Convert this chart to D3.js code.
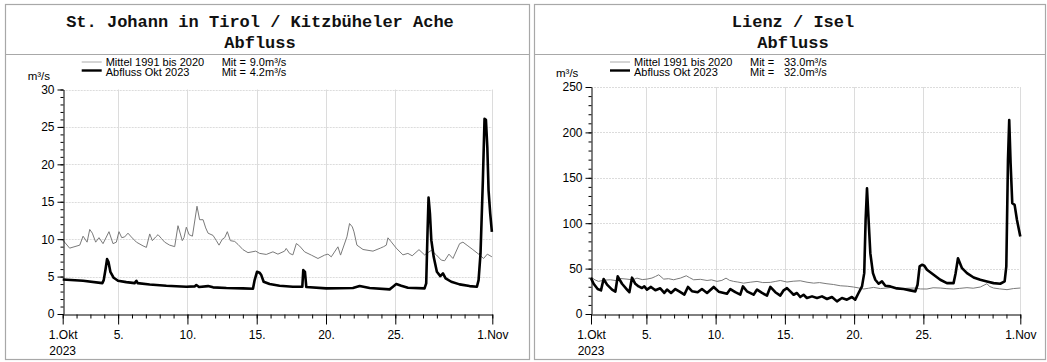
<!DOCTYPE html>
<html><head><meta charset="utf-8">
<script src="https://cdn.jsdelivr.net/npm/d3@7"></script>
<style>body{margin:0;background:#fff}svg{display:block}</style>
</head><body>
<svg id="chart" width="1047" height="362"></svg>
<script>
// ---------- data ----------
const xTickDays = [0, 4, 9, 14, 19, 24, 31];
const xTickLabels = ["1.Okt", "5.", "10.", "15.", "20.", "25.", "1.Nov"];
const yearLabel = "2023";
const unitLabel = "m³/s";
const legendLabels = ["Mittel 1991 bis 2020", "Abfluss Okt 2023"];

const leftTitle = ["St. Johann in Tirol / Kitzbüheler Ache", "Abfluss"];
const leftMeanLabels = ["9.0m³/s", "4.2m³/s"];
const leftYTicks = [0, 5, 10, 15, 20, 25, 30];

const rightTitle = ["Lienz / Isel", "Abfluss"];
const rightMeanLabels = ["33.0m³/s", "32.0m³/s"];
const rightYTicks = [0, 50, 100, 150, 200, 250];

// [day since 1 Oct, m³/s]
const leftMean = [[0,9.9],[0.5,8.8],[1.23,9.2],[1.47,10.4],[1.76,9.6],[1.95,11.3],[2.14,10.8],[2.38,9.6],[2.62,10.2],[2.91,9.4],[3.34,11.0],[3.63,9.4],[3.87,9.6],[4.06,11.0],[4.26,10.2],[4.47,10.3],[4.71,10.8],[4.95,10.3],[5.32,9.6],[5.8,9.1],[6.04,8.9],[6.28,10.7],[6.47,9.8],[6.71,10.3],[6.88,10.6],[7.12,10.1],[7.36,9.6],[7.72,9.2],[8.08,9.0],[8.32,11.8],[8.63,9.8],[8.75,10.2],[8.92,11.6],[9.12,10.6],[9.36,10.4],[9.69,14.4],[9.88,12.6],[10.13,12.6],[10.32,11.5],[10.49,10.8],[10.85,10.5],[11.09,9.8],[11.28,9.2],[11.52,10.0],[11.69,10.2],[11.88,11.0],[12.1,9.8],[12.41,9.7],[12.65,9.3],[13.01,8.6],[13.37,8.2],[13.93,8.4],[14.21,8.1],[14.69,7.96],[15.17,8.31],[15.53,8.0],[16.01,8.4],[16.13,8.76],[16.37,8.1],[16.61,7.9],[16.86,9.42],[17.1,9.07],[17.46,8.3],[17.94,7.87],[18.42,7.42],[18.9,7.87],[19.14,8.0],[19.38,7.64],[19.86,8.98],[20.05,7.87],[20.51,10.31],[20.7,12.09],[20.9,11.64],[21.02,10.98],[21.23,9.2],[21.67,8.62],[22.39,8.4],[22.92,8.8],[23.16,9.0],[23.35,9.2],[23.47,10.18],[23.71,9.64],[24.07,8.8],[24.55,7.9],[24.91,8.1],[25.22,7.78],[25.71,8.6],[26.11,7.9],[26.6,8.5],[26.96,7.9],[27.32,7.2],[27.56,7.11],[27.87,8.0],[28.16,7.42],[28.64,9.4],[28.88,9.6],[29.24,9.1],[29.6,8.6],[30.08,7.9],[30.37,7.42],[30.64,8.0],[30.97,7.64]];

const leftFlow = [[0,4.62],[1.47,4.44],[2.86,4.13],[2.96,4.53],[3.1,6.09],[3.2,7.33],[3.3,6.98],[3.44,5.64],[3.68,4.84],[3.99,4.44],[4.59,4.26],[5.19,4.13],[5.32,4.44],[5.41,4.13],[6.28,3.95],[7.48,3.78],[8.92,3.64],[9.52,3.69],[9.64,3.87],[9.84,3.6],[10.49,3.73],[10.85,3.56],[11.81,3.47],[13.01,3.42],[13.73,3.38],[13.85,4.53],[14.02,5.64],[14.21,5.51],[14.33,5.2],[14.5,4.31],[14.93,4.0],[15.65,3.78],[16.61,3.64],[17.29,3.64],[17.36,5.87],[17.48,5.64],[17.58,3.6],[19.02,3.42],[20.94,3.47],[21.43,3.73],[22.15,3.47],[23.59,3.29],[23.83,3.64],[24.07,4.0],[24.43,3.78],[24.91,3.51],[26.11,3.42],[26.23,4.09],[26.33,11.2],[26.4,15.56],[26.5,13.42],[26.6,9.87],[26.77,7.64],[27.0,5.64],[27.25,5.07],[27.44,5.42],[27.63,4.76],[28.04,4.31],[28.64,3.96],[29.36,3.73],[29.89,3.64],[30.01,4.53],[30.15,8.09],[30.32,17.87],[30.44,26.09],[30.54,25.96],[30.64,22.31],[30.73,16.53],[30.85,13.42],[30.97,10.98]];

const rightMean = [[0,40.6],[0.3,37.5],[0.55,35.9],[0.9,37.2],[1.4,37.7],[1.8,36.8],[2.12,39.1],[2.6,38.4],[3.0,37.6],[3.32,39.5],[3.7,37.9],[4.04,38.4],[4.4,39.6],[4.65,41.3],[4.89,43.2],[5.25,38.4],[5.6,38.9],[5.97,37.7],[6.2,38.6],[6.45,39.5],[6.88,42.1],[7.1,40.2],[7.41,37.7],[7.9,38.2],[8.38,36.9],[8.7,37.6],[9.1,35.9],[9.45,37.0],[9.75,39.5],[10.0,37.1],[10.3,35.9],[10.6,35.2],[11.02,34.0],[11.5,35.0],[11.99,35.9],[12.4,34.6],[12.95,34.8],[13.3,35.8],[13.67,36.9],[14.15,35.2],[14.6,36.1],[15.11,36.6],[15.6,35.0],[16.08,34.0],[16.5,34.6],[17.04,33.3],[17.5,32.5],[18.0,31.1],[18.5,30.6],[18.96,29.7],[19.3,28.8],[19.69,27.5],[20.05,28.4],[20.41,29.3],[20.9,28.0],[21.37,28.6],[21.8,29.4],[22.33,27.5],[22.8,28.3],[23.3,28.6],[23.8,27.6],[24.26,27.5],[24.7,28.9],[25.22,28.6],[25.7,27.9],[26.18,27.5],[26.6,28.2],[27.15,29.0],[27.6,28.4],[28.11,29.7],[28.59,33.3],[28.8,30.2],[29.07,28.6],[29.5,27.7],[30.04,26.8],[30.5,28.0],[31.0,28.6]];

const rightFlow = [[0,39.5],[0.19,33.3],[0.48,27.5],[0.72,26],[0.91,38.5],[1.16,32.3],[1.52,26.9],[1.76,24.7],[1.93,41.5],[2.24,33.3],[2.6,26.9],[2.77,24],[2.96,40],[3.2,33.3],[3.44,30.4],[3.68,28.6],[3.85,30.4],[4.04,26.9],[4.33,29.8],[4.65,26.1],[5.0,28.3],[5.29,23.2],[5.49,26.9],[5.78,23.2],[6.09,27.5],[6.4,24.6],[6.74,21.3],[7.0,29.8],[7.29,25.1],[7.7,24],[8.01,27.5],[8.38,23.2],[8.86,29.8],[9.22,24.6],[9.82,22.4],[10.06,27.5],[10.42,24],[10.78,21.3],[10.97,30.4],[11.26,25],[11.74,21.3],[11.99,26.9],[12.35,23.2],[12.71,20.3],[12.95,29.8],[13.31,24],[13.67,20.3],[13.91,26.1],[14.15,28.5],[14.39,24.9],[14.63,21.2],[14.87,23.1],[15.11,18.7],[15.35,21.2],[15.59,17.6],[15.96,19.4],[16.32,17.6],[16.68,19.4],[17.04,16.5],[17.4,18.7],[17.76,13.9],[18.12,17.6],[18.48,15.8],[18.84,18.7],[19.08,15.8],[19.32,23.1],[19.57,30.4],[19.73,45],[19.83,103.6],[19.93,138.4],[20.02,111],[20.17,67],[20.36,45],[20.53,37.7],[20.77,33.3],[21.01,35.9],[21.25,31.1],[21.61,30.4],[22.09,28.2],[22.57,27.5],[23.05,26],[23.42,24.9],[23.58,32.2],[23.73,52.4],[23.9,54.2],[24.07,53.1],[24.26,48.7],[24.74,43.2],[25.22,37.7],[25.7,34],[26.18,34],[26.33,45],[26.5,61.4],[26.79,50.5],[27.15,45],[27.63,40.2],[28.11,37.7],[28.59,35.9],[29.07,34],[29.55,33.3],[29.87,35.9],[29.99,52.4],[30.11,169.6],[30.2,213.5],[30.3,165.9],[30.42,122],[30.59,120.2],[30.76,103.6],[31.0,85.3]];

// ---------- drawing ----------
const svg = d3.select("#chart");
const start = Date.UTC(2023, 9, 1);
const toDate = d => new Date(start + d * 864e5);
const FONT = "'Liberation Sans', Arial, Helvetica, sans-serif";
const MONO = "'Liberation Mono', 'Courier New', monospace";

function panel(cfg) {
  const g = svg.append("g");
  // frame
  g.append("rect").attr("x", cfg.box[0] + 0.5).attr("y", 4.5)
    .attr("width", cfg.box[1] - cfg.box[0]).attr("height", 355)
    .attr("fill", "#fff").attr("stroke", "#a8a8a8").attr("stroke-width", 1.2);
  g.append("line").attr("x1", cfg.box[0]).attr("x2", cfg.box[1])
    .attr("y1", 54.5).attr("y2", 54.5).attr("stroke", "#a8a8a8").attr("stroke-width", 1.2);
  // titles
  g.selectAll("text.title").data(cfg.title).join("text")
    .attr("x", cfg.titleX).attr("y", (d, i) => 27 + i * 20.5)
    .attr("text-anchor", "middle").attr("font-family", MONO)
    .attr("font-weight", "bold").attr("font-size", 17).attr("fill", "#111").text(d => d);

  const x = d3.scaleUtc().domain([toDate(0), toDate(31)]).range([cfg.left, cfg.right]);
  const y = d3.scaleLinear().domain([0, cfg.yTicks[cfg.yTicks.length - 1]]).range([cfg.bottom, cfg.top]);

  // grid
  g.append("g").selectAll("line").data(cfg.yTicks.slice(1)).join("line")
    .attr("x1", cfg.left).attr("x2", cfg.right)
    .attr("y1", d => Math.round(y(d)) + 0.5).attr("y2", d => Math.round(y(d)) + 0.5)
    .attr("stroke", "#dcdcdc").attr("stroke-width", 1).attr("stroke-dasharray", "2,1");
  g.append("g").selectAll("line").data(xTickDays.slice(1)).join("line")
    .attr("x1", d => Math.round(x(toDate(d))) + 0.5).attr("x2", d => Math.round(x(toDate(d))) + 0.5)
    .attr("y1", cfg.top).attr("y2", cfg.bottom)
    .attr("stroke", "#dcdcdc").attr("stroke-width", 1);

  // lines
  const line = d3.line().x(d => x(toDate(d[0]))).y(d => y(d[1]));
  g.append("path").datum(cfg.mean).attr("d", line).attr("fill", "none")
    .attr("stroke", "#7a7a7a").attr("stroke-width", 1);
  g.append("path").datum(cfg.flow).attr("d", line).attr("fill", "none")
    .attr("stroke", "#000").attr("stroke-width", 2.6).attr("stroke-linejoin", "round");

  // y axis
  const yMinor = d3.range(0, cfg.yTicks[cfg.yTicks.length - 1] + 1e-9, cfg.yMinor);
  const ya = g.append("g").attr("transform", `translate(${Math.round(cfg.left) + 0.5},0)`)
    .call(d3.axisLeft(y).tickValues(cfg.yTicks).tickSize(6).tickPadding(3).tickSizeOuter(0));
  ya.select(".domain").attr("stroke", "#000");
  ya.selectAll("text").attr("font-family", FONT).attr("font-size", 12).attr("fill", "#000");
  g.append("g").attr("transform", `translate(${Math.round(cfg.left) + 0.5},0)`)
    .call(d3.axisLeft(y).tickValues(yMinor).tickSize(3).tickFormat("").tickSizeOuter(0))
    .select(".domain").remove();

  // x axis
  const xa = g.append("g").attr("transform", `translate(0,${Math.round(cfg.bottom) + 0.5})`)
    .call(d3.axisBottom(x).tickValues(xTickDays.map(toDate)).tickSize(10).tickSizeOuter(0)
      .tickFormat((d, i) => xTickLabels[i]).tickPadding(6));
  xa.select(".domain").attr("stroke", "#000");
  xa.selectAll("text").attr("font-family", FONT).attr("font-size", 12).attr("fill", "#000");
  g.append("g").attr("transform", `translate(0,${Math.round(cfg.bottom) + 0.5})`)
    .call(d3.axisBottom(x).tickValues(d3.range(0, 32).map(toDate)).tickSize(4).tickFormat("").tickSizeOuter(0))
    .select(".domain").remove();
  g.append("text").attr("x", x(toDate(0))).attr("y", cfg.bottom + 41)
    .attr("text-anchor", "middle").attr("font-family", FONT).attr("font-size", 12).text(yearLabel);

  // unit
  g.append("text").attr("x", cfg.left - 35).attr("y", cfg.unitY)
    .attr("font-family", FONT).attr("font-size", 11.5).text(unitLabel);

  // legend
  const lg = g.append("g");
  [0, 1].forEach(i => {
    const yy = 62 + i * 8.5;
    lg.append("line").attr("x1", cfg.left + 19).attr("x2", cfg.left + 39)
      .attr("y1", yy).attr("y2", yy)
      .attr("stroke", i ? "#000" : "#aaa").attr("stroke-width", i ? 2.4 : 1);
    lg.append("text").attr("x", cfg.left + 43).attr("y", 66 + i * 10)
      .attr("font-family", FONT).attr("font-size", 11).text(legendLabels[i]);
    lg.append("text").attr("x", cfg.left + 159).attr("y", 66 + i * 10)
      .attr("font-family", FONT).attr("font-size", 11).text("Mit =");
    lg.append("text").attr("x", cfg.left + cfg.valOffset).attr("y", 66 + i * 10)
      .attr("font-family", FONT).attr("font-size", 11).text(cfg.meanLabels[i]);
  });
}

panel({box: [5, 529], titleX: 260, title: leftTitle, left: 62.7, right: 492.3, top: 89.5, bottom: 314,
  yTicks: leftYTicks, yMinor: 1, mean: leftMean, flow: leftFlow, meanLabels: leftMeanLabels, valOffset: 187, unitY: 80});
panel({box: [534, 1045], titleX: 793, title: rightTitle, left: 591, right: 1020.3, top: 87, bottom: 314,
  yTicks: rightYTicks, yMinor: 10, mean: rightMean, flow: rightFlow, meanLabels: rightMeanLabels, valOffset: 193, unitY: 77});
</script>
</body></html>
